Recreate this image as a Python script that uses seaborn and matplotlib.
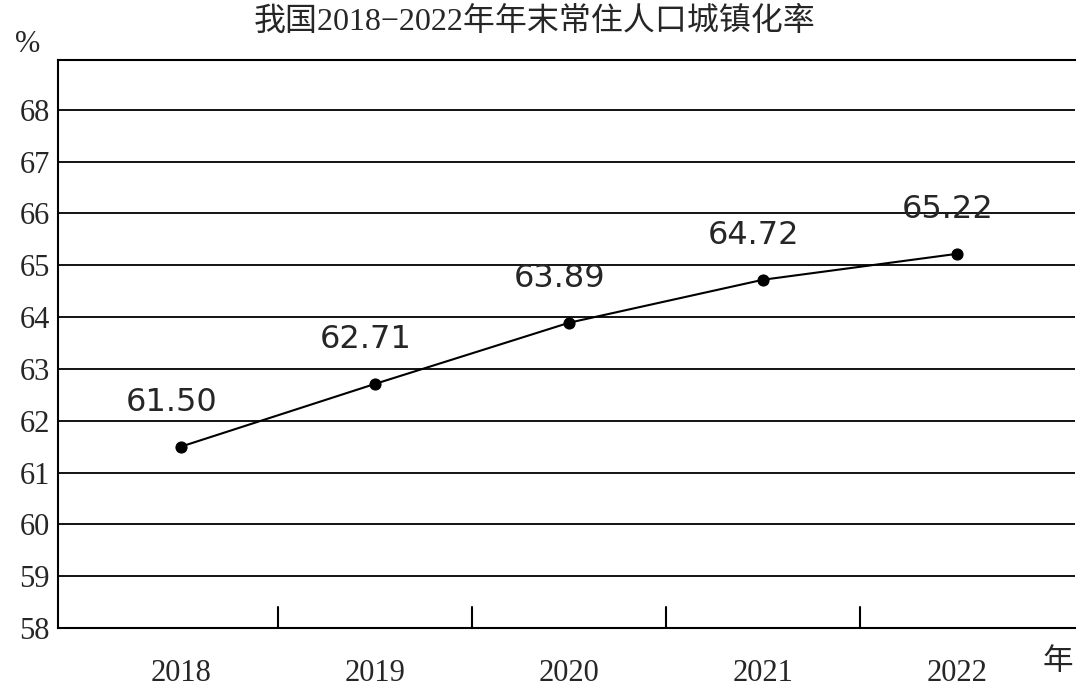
import matplotlib
matplotlib.use("Agg")
import matplotlib.pyplot as plt
import seaborn as sns
import pandas as pd

years = [2018, 2019, 2020, 2021, 2022]
rates = [61.50, 62.71, 63.89, 64.72, 65.22]
labels = ["61.50", "62.71", "63.89", "64.72", "65.22"]
yticks = list(range(58, 69))

sns.set_style("white")
plt.rcParams['font.family'] = ['Liberation Serif', 'Noto Sans CJK SC']

df = pd.DataFrame({"year": years, "rate": rates})

fig = plt.figure(figsize=(10.8, 6.87), dpi=100)
ax = fig.add_axes([58 / 1080, 1 - 628 / 687, 1017 / 1080, 568 / 687])

for y in yticks[1:]:
    ax.axhline(y, color="black", lw=1.3, zorder=1)

sns.lineplot(data=df, x="year", y="rate", color="black", lw=1.5,
             marker="o", markersize=8, markeredgecolor="black", ax=ax, zorder=3)

for x, y, t in zip(years, rates, labels):
    ax.text(x - 0.05, y + 0.55, t, fontsize=23, ha="center", va="bottom",
            family=["DejaVu Sans"])

for i in range(len(years) - 1):
    xm = (years[i] + years[i + 1]) / 2
    ax.plot([xm, xm], [58, 58.4], color="black", lw=1.5, clip_on=False)

ax.set_xlim(2017.366, 2022.608)
ax.set_ylim(58, 68.96)
ax.set_yticks(yticks)
ax.set_yticklabels([str(v) for v in yticks], fontsize=22)
ax.set_xticks(years)
ax.set_xticklabels([str(v) for v in years], fontsize=22)
ax.tick_params(axis="both", length=0, pad=6)
ax.tick_params(axis="x", pad=22)
ax.set_xlabel("")
ax.set_ylabel("")

for side in ["left", "top", "bottom"]:
    ax.spines[side].set_color("black")
    ax.spines[side].set_linewidth(1.5)
ax.spines["right"].set_visible(False)

fig.text(28 / 1080, 1 - 45 / 687, "%", fontsize=22, ha="center", va="center")
fig.text(1058 / 1080, 1 - 662 / 687, "年", fontsize=22, ha="center", va="center")
fig.text(535 / 1080, 1 - 22 / 687, "我国2018−2022年年末常住人口城镇化率",
         fontsize=23, ha="center", va="center")

fig.savefig("out.png", dpi=100, facecolor="white")
